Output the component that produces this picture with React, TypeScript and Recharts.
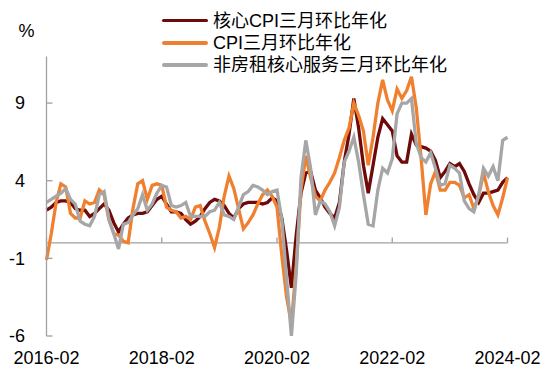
import React from 'react';
import { LineChart, Line, XAxis, YAxis, ReferenceLine, Legend } from 'recharts';

// ---- categories (monthly, 2016-02 .. 2024-02) ----
const START_YEAR = 2016;
const START_MONTH = 2;
const N_MONTHS = 97;
const months: string[] = Array.from({ length: N_MONTHS }, (_, i) => {
  const m = START_MONTH - 1 + i;
  const y = START_YEAR + Math.floor(m / 12);
  const mm = (m % 12) + 1;
  return `${y}-${String(mm).padStart(2, '0')}`;
});

// ---- series values (% , 3m/3m annualised) ----
const coreCPI: number[] = [
  2.1, 2.3, 2.6, 2.7, 2.7, 2.6, 2.2, 2.1, 2.1, 1.7, 1.9, 2.2, 2.5, 2.1, 1.3, 0.7, 1.2, 1.6, 1.8, 1.9,
  1.9, 2.0, 2.4, 2.8, 3.0, 2.5, 2.0, 2.0, 1.9, 1.5, 1.2, 1.4, 1.7, 2.2, 2.6, 2.8, 2.7, 2.4, 1.9, 1.6,
  2.2, 2.5, 2.6, 2.6, 2.6, 2.5, 2.6, 2.9, 2.7, 1.6, -0.5, -2.9, 0.5, 3.2, 4.5, 4.6, 3.4, 2.9, 2.3, 1.9,
  1.6, 2.6, 5.2, 7.0, 9.3, 7.4, 5.0, 3.2, 5.0, 6.8, 8.0, 7.6, 7.2, 5.6, 5.2, 5.2, 7.0, 6.3, 6.2, 6.1,
  5.9, 5.3, 4.2, 4.6, 5.1, 4.9, 5.1, 4.6, 3.8, 3.1, 2.6, 3.2, 3.2, 3.3, 3.4, 3.9, 4.2,
];
const headlineCPI: number[] = [
  -1.1, 0.6, 2.6, 3.8, 3.6, 1.9, 1.6, 1.6, 2.7, 2.5, 2.6, 3.4, 3.1, 1.5, 0.6, 0.5, 0.1, 0.0, 2.2, 3.8,
  4.0, 2.8, 3.7, 3.8, 3.7, 2.3, 2.1, 2.0, 1.6, 1.7, 1.5, 2.3, 2.4, 1.4, 0.6, -0.3, 1.0, 3.0, 4.3, 3.5,
  2.2, 0.9, 1.3, 1.8, 2.5, 3.1, 3.4, 3.0, 2.3, -0.8, -3.5, -5.2, -1.5, 3.4, 5.6, 4.2, 3.0, 2.7, 3.4, 3.9,
  4.5, 5.5, 6.6, 7.4, 9.0, 8.2, 7.2, 5.0, 6.8, 9.0, 10.5, 9.2, 8.5, 9.9, 9.3, 9.8, 10.7, 8.7, 5.5, 1.8,
  3.8, 4.6, 3.4, 3.4, 3.9, 3.9, 3.7, 2.9, 3.1, 2.2, 3.0, 4.5, 3.3, 2.4, 1.8, 2.9, 4.2,
];
const superCore: number[] = [
  2.6, 2.8, 3.0, 3.2, 3.5, 2.8, 2.5, 1.4, 1.2, 1.1, 1.7, 3.1, 3.3, 1.5, 0.6, -0.4, 1.2, 1.3, 1.8, 2.2,
  3.1, 2.1, 2.5, 3.2, 3.7, 3.6, 2.4, 2.3, 2.4, 2.6, 1.7, 1.7, 1.7, 1.7, 2.0, 2.1, 2.6, 1.8, 1.7, 1.5,
  2.3, 3.1, 3.3, 3.7, 3.6, 3.4, 3.1, 3.3, 3.4, 1.5, -2.3, -6.0, -2.0, 4.2, 6.6, 4.8, 1.8, 2.7, 2.5, 2.0,
  1.1, 2.3, 5.2, 5.9, 6.8, 5.2, 3.1, 1.2, 1.1, 3.4, 4.8, 4.5, 5.4, 8.3, 9.0, 9.0, 9.3, 6.4, 5.5, 5.2,
  5.8, 4.8, 3.7, 3.8, 5.0, 4.8, 4.5, 2.7, 2.2, 2.0, 3.1, 4.8, 4.3, 4.9, 4.0, 6.6, 6.8,
];

// ---- axis ticks ----
const yTicks: number[] = [-6, -1, 4, 9];
const yDomain: [number, number] = [-6, 12];
const xTickLabels: string[] = ['2016-02', '2018-02', '2020-02', '2022-02', '2024-02'];

// ---- series meta ----
const seriesNames = ['核心CPI三月环比年化', 'CPI三月环比年化', '非房租核心服务三月环比年化'];
const seriesKeys = ['core', 'cpi', 'super'];
const seriesColors = ['#6E0A0A', '#F0802F', '#A6A6A6'];

const data = months.map((m, i) => ({
  month: m,
  core: coreCPI[i],
  cpi: headlineCPI[i],
  super: superCore[i],
}));

const FONT = "'Liberation Sans', Arial, 'Noto Sans CJK SC', sans-serif";
const AXIS = '#A0A0A0';
const TICK_MARGIN = 21.5;

const YTick = (props: any) => {
  const { x, y, payload } = props;
  return (
    <g>
      <line x1={x + TICK_MARGIN} x2={x + TICK_MARGIN + 6} y1={y} y2={y} stroke={AXIS} strokeWidth={1.3} />
      <text x={x} y={y} dy="0.355em" textAnchor="end" fontSize={18} fill="#000" fontFamily={FONT}>
        {payload.value}
      </text>
    </g>
  );
};

const PctLabel = () => (
  <text x={26.5} y={31} dy="0.355em" textAnchor="middle" fontSize={18} fill="#000" fontFamily={FONT}>
    %
  </text>
);

const renderLegend = () => (
  <div style={{ fontFamily: FONT, fontSize: 18, color: '#000' }}>
    {seriesNames.map((name, i) => (
      <div key={name} style={{ display: 'flex', alignItems: 'center', height: 22.2 }}>
        <span
          style={{
            display: 'inline-block',
            width: 46.5,
            height: 3.6,
            borderRadius: 2,
            background: seriesColors[i],
          }}
        />
        <span style={{ marginLeft: 5, whiteSpace: 'nowrap', lineHeight: '22px' }}>{name}</span>
      </div>
    ))}
  </div>
);

export default function App() {
  return (
    <div style={{ position: 'absolute', left: 0, top: 0, fontFamily: FONT, background: '#fff' }}>
      <LineChart
        width={550}
        height={377}
        data={data}
        margin={{ top: 56.5, right: 42.5, bottom: 0, left: 0 }}
      >
        <XAxis
          dataKey="month"
          interval={23}
          axisLine={false}
          tickLine={false}
          tickSize={0}
          tickMargin={15}
          height={41}
          tick={{ fill: '#000', fontSize: 18, fontFamily: FONT }}
        />
        <YAxis
          domain={yDomain}
          ticks={yTicks}
          allowDataOverflow
          width={46.5}
          axisLine={{ stroke: AXIS, strokeWidth: 1.3 }}
          tickLine={false}
          tickSize={0}
          tickMargin={TICK_MARGIN}
          tick={<YTick />}
          label={<PctLabel />}
        />
        <ReferenceLine y={0} stroke={AXIS} strokeWidth={1.3} />
        {xTickLabels.map((m) => (
          <ReferenceLine
            key={m}
            segment={[
              { x: m, y: 0 },
              { x: m, y: 0.34 },
            ]}
            stroke={AXIS}
            strokeWidth={1.3}
          />
        ))}
        <Legend
          layout="vertical"
          verticalAlign="middle"
          align="center"
          content={renderLegend}
          wrapperStyle={{ left: 161.5, top: 9.6, width: 'auto' }}
        />
        {seriesKeys.map((k, i) => (
          <Line
            key={k}
            type="linear"
            dataKey={k}
            name={seriesNames[i]}
            stroke={seriesColors[i]}
            strokeWidth={3.3}
            dot={false}
            activeDot={false}
            isAnimationActive={false}
          />
        ))}
      </LineChart>
    </div>
  );
}
